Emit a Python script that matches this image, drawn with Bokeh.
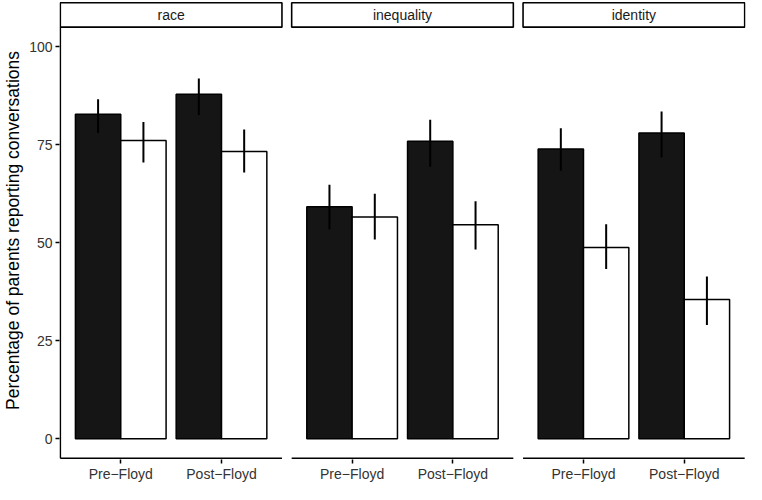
from bokeh.plotting import figure
from bokeh.models import Range1d, FixedTicker
from bokeh.embed import file_html
from bokeh.resources import INLINE
from bokeh.core.properties import value

# ---- data ----
panels = ["race", "inequality", "identity"]
periods = ["Pre\u2212Floyd", "Post\u2212Floyd"]
# black bars (group 1) and white bars (group 2), per panel: [Pre, Post]
black_vals = [[82.8, 87.9], [59.2, 75.9], [73.9, 78.0]]
black_lo = [[78.0, 82.6], [53.4, 69.4], [68.4, 71.8]]
black_hi = [[86.6, 91.9], [64.8, 81.4], [79.2, 83.5]]
white_vals = [[76.1, 73.3], [56.6, 54.6], [48.8, 35.5]]
white_lo = [[70.5, 67.9], [50.8, 48.3], [43.3, 29.0]]
white_hi = [[80.8, 78.9], [62.5, 60.6], [54.7, 41.4]]
y_ticks = [0, 25, 50, 75, 100]

# ---- layout in data units (ggplot-like discrete scale) ----
PANEL_W = 2.2
GAP = 0.0965
BAR_W = 0.45
Y_LO, Y_HI = -5, 105
STRIP_TOP = 111.25

def off(i):
    return i * (PANEL_W + GAP)

bx, bt, wx, wt = [], [], [], []
seg_x, seg_y0, seg_y1 = [], [], []
tick_pos, tick_lab = [], []
for i in range(3):
    for j in range(2):
        c = off(i) + 0.6 + j
        tick_pos.append(c)
        tick_lab.append(periods[j])
        bx.append(c - BAR_W / 2); bt.append(black_vals[i][j])
        wx.append(c + BAR_W / 2); wt.append(white_vals[i][j])
        seg_x += [c - BAR_W / 2, c + BAR_W / 2]
        seg_y0 += [black_lo[i][j], white_lo[i][j]]
        seg_y1 += [black_hi[i][j], white_hi[i][j]]

x_end = off(2) + PANEL_W

p = figure(width=746, height=484, output_backend="svg", toolbar_location=None,
           x_range=Range1d(-0.008, x_end + 0.008), y_range=Range1d(-5.3, STRIP_TOP + 0.3),
           min_border_left=56, min_border_right=1, min_border_top=1, min_border_bottom=21)
p.xgrid.visible = False
p.ygrid.visible = False
p.outline_line_color = None
p.background_fill_color = "white"
p.border_fill_color = "white"

FONT = "Liberation Sans"

# bars
p.vbar(x=bx, top=bt, bottom=0, width=BAR_W, fill_color="#151515", line_color="black", line_width=1.5)
p.vbar(x=wx, top=wt, bottom=0, width=BAR_W, fill_color="white", line_color="black", line_width=1.5)
# error bars
p.segment(x0=seg_x, y0=seg_y0, x1=seg_x, y1=seg_y1, line_color="black", line_width=2)

# panel axis lines and strips
for i in range(3):
    p.segment(x0=[off(i)], y0=[Y_LO], x1=[off(i) + PANEL_W], y1=[Y_LO], line_color="black", line_width=1.6)
    p.quad(left=[off(i)], right=[off(i) + PANEL_W], bottom=[Y_HI], top=[STRIP_TOP],
           fill_color="white", line_color="black", line_width=1.6)
    p.text(x=[off(i) + PANEL_W / 2], y=[(Y_HI + STRIP_TOP) / 2], text=[panels[i]],
           text_align="center", text_baseline="middle", text_font=value(FONT),
           text_font_size="14px", text_color="#1A1A1A")
p.segment(x0=[0], y0=[Y_LO], x1=[0], y1=[Y_HI], line_color="black", line_width=1.6)

# axes
p.yaxis.ticker = FixedTicker(ticks=y_ticks)
p.yaxis.axis_line_color = None
p.yaxis.major_tick_in = 0
p.yaxis.major_tick_out = 4
p.yaxis.minor_tick_line_color = None
p.yaxis.major_tick_line_width = 1.5
p.yaxis.major_label_text_font = FONT
p.yaxis.major_label_text_font_size = "14px"
p.yaxis.major_label_text_color = "#333333"
p.yaxis.major_label_standoff = 3
p.yaxis.axis_label = "Percentage of parents reporting conversations"
p.yaxis.axis_label_text_font = FONT
p.yaxis.axis_label_text_font_size = "17.5px"
p.yaxis.axis_label_text_font_style = "normal"
p.yaxis.axis_label_text_color = "black"
p.yaxis.axis_label_standoff = 3

p.xaxis.ticker = FixedTicker(ticks=tick_pos)
p.xaxis.major_label_overrides = {t: l for t, l in zip(tick_pos, tick_lab)}
p.xaxis.axis_line_color = None
p.xaxis.major_tick_in = 0
p.xaxis.major_tick_out = 4
p.xaxis.minor_tick_line_color = None
p.xaxis.major_tick_line_width = 1.5
p.xaxis.major_label_text_font = FONT
p.xaxis.major_label_text_font_size = "14px"
p.xaxis.major_label_text_color = "#333333"
p.xaxis.major_label_standoff = 2

open("out.html", "w").write(file_html(p, INLINE))
